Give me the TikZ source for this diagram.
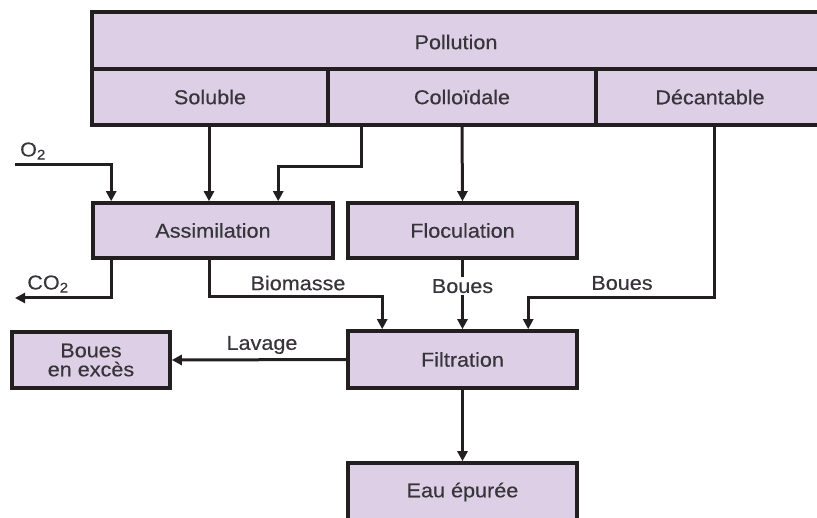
\documentclass[tikz,border=0pt]{standalone}
\usepackage{fontspec}
\setmainfont[FakeStretch=1.08,FakeBold=0.4]{Liberation Sans}
\usetikzlibrary{arrows.meta,calc}
\definecolor{boxfill}{RGB}{221,208,230}
\definecolor{ink}{RGB}{35,31,32}
\definecolor{txt}{RGB}{55,52,58}
\tikzset{
  box/.style={draw=ink,fill=boxfill,line width=3.6pt,rectangle,inner sep=0pt,
    text=txt,font=\fontsize{20}{22}\selectfont,align=center},
  arr/.style={draw=ink,line width=3pt,-{Triangle[length=10pt,width=10pt]}},
  lbl/.style={text=txt,font=\fontsize{20}{22}\selectfont,inner sep=1pt},
}
\begin{document}
\begin{tikzpicture}[x=1pt,y=-1pt]
\useasboundingbox (0,0) rectangle (817,518);
\clip (0,0) rectangle (817,518);
% top table
\node[box,minimum width=740,minimum height=57] (pollution) at (462,40.5) {};
\node[lbl] at (456,42) {Pollution};
\node[box,minimum width=236,minimum height=56] (soluble) at (210,97) {Soluble};
\node[box,minimum width=268,minimum height=56] (colloidale) at (462,97) {Colloïdale};
\node[box,minimum width=240,minimum height=56] (decantable) at (716,97) {};
\node[lbl] at (710,97) {Décantable};
% process boxes
\node[box,minimum width=240,minimum height=55] (assim) at (213,230.5) {Assimilation};
\node[box,minimum width=229,minimum height=55] (floc) at (462.5,230.5) {Floculation};
\node[box,minimum width=229,minimum height=57] (filt) at (462.5,359.5) {Filtration};
\node[box,minimum width=158,minimum height=56] (exces) at (91,360) {Boues\\[-3pt]en excès};
\node[box,minimum width=229,minimum height=80] (eau) at (462.5,503) {};
\node[lbl] at (462.5,492) {Eau épurée};
% inputs
\coordinate (o2) at (15,165);
\node[lbl] at (33,151) {O\textsubscript{2}};
\draw[arr] (o2) -| ($(assim.north west)+(20,0)$);
\draw[arr] ($(soluble.south)+(-1,0)$) -- ($(assim.north)+(-4,0)$);
\draw[arr] ($(colloidale.south west)+(35,0)$) -- ++(0,40) -| ($(assim.north west)+(187,0)$);
\draw[arr] (colloidale.south) -- (floc.north);
\draw[arr] ($(decantable.south)+(-2,0)$) -- ++(0,171) -| ($(filt.north west)+(182,0)$);
% outputs of assimilation
\coordinate (co2) at (15,298);
\node[lbl] at (48,284) {CO\textsubscript{2}};
\draw[arr] ($(assim.south west)+(20,0)$) |- (co2);
\draw[arr] ($(assim.south)+(-4,0)$) -- ++(0,37) -| ($(filt.north west)+(36,0)$);
\node[lbl] at (298,283) {Biomasse};
% floculation to filtration
\draw[arr] (floc.south) -- (filt.north) node[lbl,pos=0.38,fill=white,inner sep=2pt] {Boues};
\node[lbl] at (622,283) {Boues};
% lavage
\draw[arr] (filt.west) -- (exces.east);
\node[lbl] at (262,345) {Lavage};
% filtration to eau
\draw[arr] (filt.south) -- (eau.north);
\end{tikzpicture}
\end{document}
